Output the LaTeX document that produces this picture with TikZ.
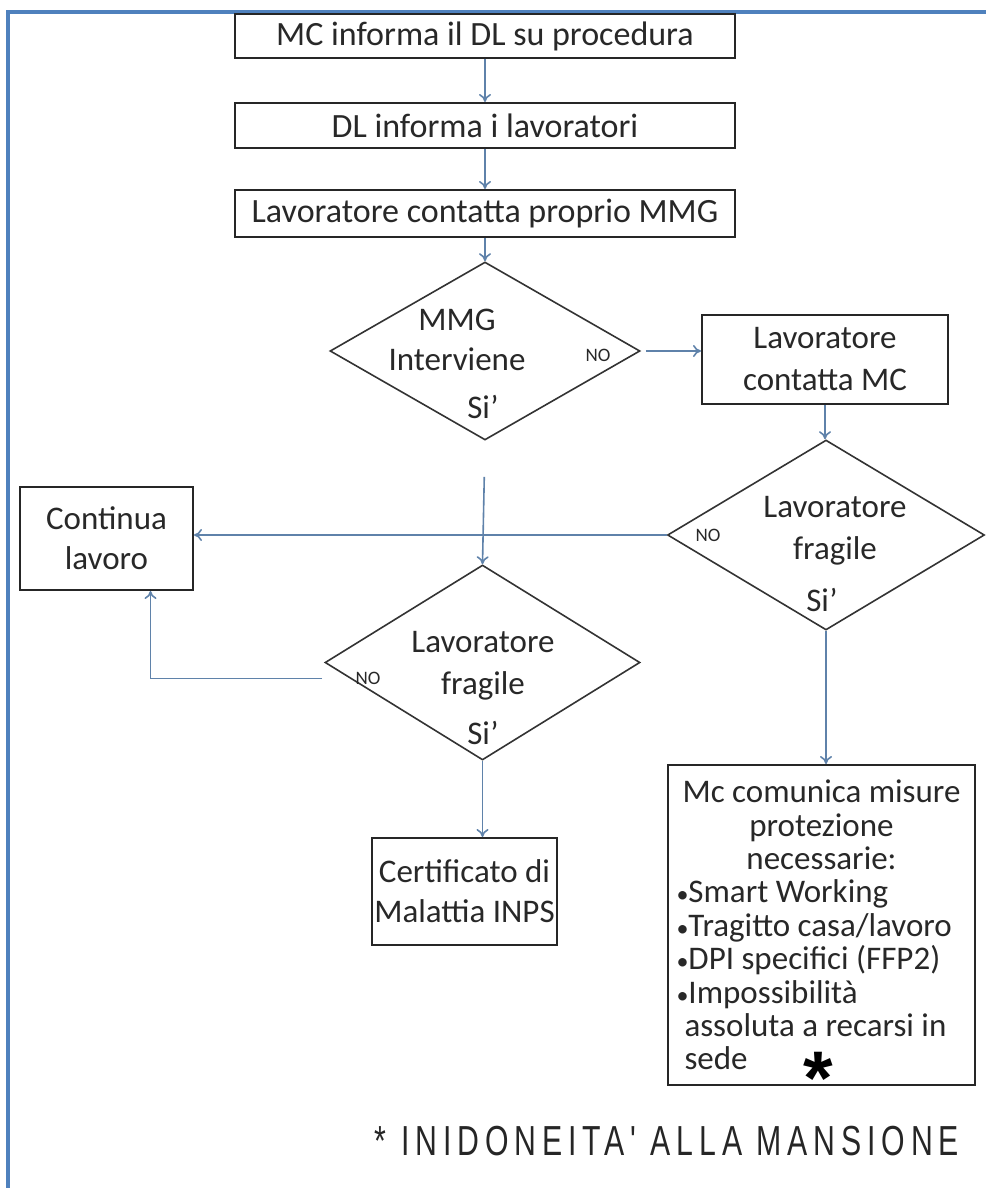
\documentclass[tikz,border=0pt]{standalone}
\usepackage{fontspec}
\setmainfont{Carlito}
\newfontfamily\footfont[FakeStretch=0.72,LetterSpace=14]{Liberation Sans}
\newfontfamily\astfont{Liberation Sans}
\usetikzlibrary{shapes.geometric,arrows.meta,calc}
\definecolor{frameblue}{RGB}{79,129,189}
\definecolor{connc}{RGB}{95,130,170}
\definecolor{txt}{RGB}{40,40,40}
\newcommand{\mybul}{{\fontsize{12}{12}\selectfont •}}
\begin{document}
\begin{tikzpicture}[x=0.5pt,y=-0.5pt,
  box/.style={draw=black!85, line width=1pt, fill=white, inner sep=0pt, text=txt, align=center, font=\fontsize{16.5}{20}\selectfont},
  dia/.style={draw=black!80, line width=0.8pt, diamond, inner sep=0pt},
  lbl/.style={text=txt, align=center, font=\fontsize{16.5}{21}\selectfont, inner sep=0pt},
  nolbl/.style={text=txt, font=\fontsize{9.5}{10}\selectfont, inner sep=0pt},
  conn/.style={draw=connc, line width=0.8pt},
  arr/.style={conn, -{To[length=4pt,width=6pt]}}
]
\useasboundingbox (0,0) rectangle (986,1188);
% frame
\draw[frameblue, line width=1.6pt] (8,1188) -- (8,12) -- (986,12);

% boxes
\node[box, minimum width=250pt, minimum height=22pt, font=\fontsize{17}{20}\selectfont] (b1) at (485,36) {MC informa il DL su procedura};
\node[box, minimum width=250pt, minimum height=22.5pt, font=\fontsize{17}{20}\selectfont] (b2) at (485,125.5) {DL informa i lavoratori};
\node[box, minimum width=250pt, minimum height=23.5pt, font=\fontsize{17}{20}\selectfont] (b3) at (485,213.5) {Lavoratore contatta proprio MMG};

% diamond 1
\node[dia, minimum width=155pt, minimum height=89pt] (d1) at (485,351) {};
\node[lbl, font=\fontsize{16.5}{20}\selectfont] (d1t) at (457,340) {MMG\\Interviene};
\node[nolbl] (d1no) at (598,355) {NO};
\node[lbl] (d1si) at (483,407) {Si’};

\node[box, minimum width=123pt, minimum height=44.5pt, font=\fontsize{16.5}{21}\selectfont] (b4) at (825,359.5) {Lavoratore\\contatta MC};

% diamond 2
\node[dia, minimum width=158.5pt, minimum height=95pt] (d2) at (826,535) {};
\node[lbl] (d2t) at (835,531) {Lavoratore\\fragile};
\node[nolbl] (d2no) at (708,535) {NO};
\node[lbl] (d2si) at (822,600) {Si’};

\node[box, minimum width=86.5pt, minimum height=51.5pt] (b5) at (106.5,538.5) {Continua\\lavoro};

% diamond 3
\node[dia, minimum width=157.5pt, minimum height=97.5pt] (d3) at (482.5,662.5) {};
\node[lbl] (d3t) at (483,666) {Lavoratore\\fragile};
\node[nolbl] (d3no) at (368,678) {NO};
\node[lbl] (d3si) at (483,733) {Si’};

\node[box, minimum width=92.5pt, minimum height=53.5pt] (b6) at (464.5,891.5) {Certificato di\\Malattia INPS};

\node[box, minimum width=153.5pt, minimum height=160pt, inner xsep=4pt, font=\fontsize{16.5}{16.7}\selectfont] (b7) at (821.5,925) {\parbox{145pt}{\centering Mc comunica misure\\protezione\\necessarie:\par\raggedright \mybul Smart Working\\\mybul Tragitto casa/lavoro\\\mybul DPI specifici (FFP2)\\\mybul Impossibilità\\\hspace*{4pt}assoluta a recarsi in\\\hspace*{4pt}sede}};
\node[inner sep=0pt, anchor=base, text height=1pt, text depth=0pt, font=\astfont\bfseries\fontsize{38}{38}\selectfont] (ast) at (818,1104) {*};

% footer
\node[inner sep=0pt, text=black!85, font=\footfont\fontsize{21}{22}\selectfont] (foot) at (667,1141) {* INIDONEITA' ALLA MANSIONE};

% connectors
\draw[arr] (b1) -- (b2);
\draw[arr] (b2) -- (b3);
\draw[arr] (b3) -- (d1);
\draw[arr, shorten <=2.5pt] (d1.east) -- (b4.west |- d1.east);
\draw[arr] (b4) -- (d2.north -| b4.south);
\draw[arr] (d2.west) -- (b5.east |- d2.west);
\draw[arr, shorten <=18pt] (d1.south) -- (d3.north);
\draw[arr] ([shift={(-1pt,-8pt)}]d3.west) -| ([xshift=22pt]b5.south);
\draw[arr] (d3.south) -- (b6.north -| d3.south);
\draw[arr] (d2.south) -- (b7.north -| d2.south);
\end{tikzpicture}
\end{document}
